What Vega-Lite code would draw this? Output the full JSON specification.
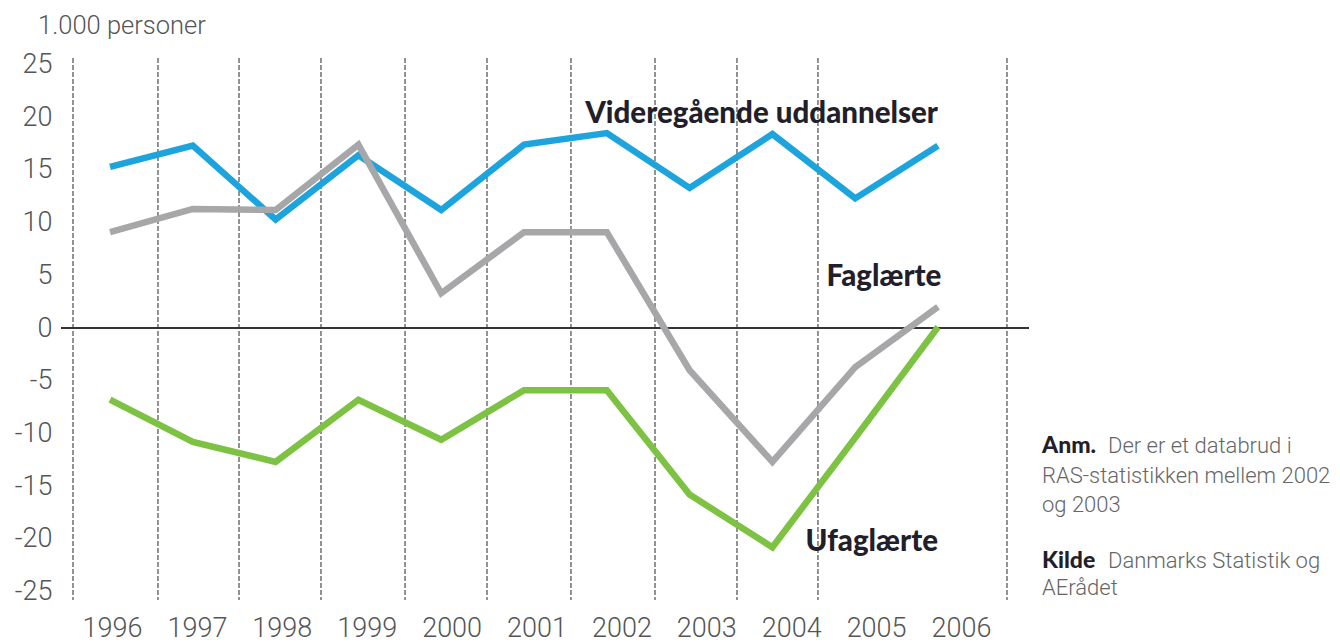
{
  "$schema": "https://vega.github.io/schema/vega-lite/v6.json",
  "width": 968,
  "height": 542,
  "autosize": {"type": "none"},
  "padding": {"left": 61, "top": 58, "right": 311, "bottom": 44},
  "background": "white",
  "config": {
    "view": {"stroke": null},
    "font": "Roboto",
    "axisY": {"grid": false, "ticks": false, "domain": false, "labelFontSize": 27, "labelFont": "Roboto", "labelFontWeight": 300, "labelColor": "#555555", "labelPadding": 9, "labelFlush": false, "labelOverlap": false}
  },
  "title": {"text": "1.000 personer", "anchor": "start", "frame": "group", "dx": -23, "offset": -9, "baseline": "alphabetic", "fontSize": 25.5, "font": "Roboto", "fontWeight": 300, "color": "#555555"},
  "datasets": {
    "series": [
      {"year": 1996, "value": 15.3, "series": "Videregående uddannelser"},
      {"year": 1997, "value": 17.3, "series": "Videregående uddannelser"},
      {"year": 1998, "value": 10.3, "series": "Videregående uddannelser"},
      {"year": 1999, "value": 16.4, "series": "Videregående uddannelser"},
      {"year": 2000, "value": 11.2, "series": "Videregående uddannelser"},
      {"year": 2001, "value": 17.4, "series": "Videregående uddannelser"},
      {"year": 2002, "value": 18.5, "series": "Videregående uddannelser"},
      {"year": 2003, "value": 13.3, "series": "Videregående uddannelser"},
      {"year": 2004, "value": 18.4, "series": "Videregående uddannelser"},
      {"year": 2005, "value": 12.3, "series": "Videregående uddannelser"},
      {"year": 2006, "value": 17.3, "series": "Videregående uddannelser"},
      {"year": 1996, "value": 9.1, "series": "Faglærte"},
      {"year": 1997, "value": 11.3, "series": "Faglærte"},
      {"year": 1998, "value": 11.2, "series": "Faglærte"},
      {"year": 1999, "value": 17.4, "series": "Faglærte"},
      {"year": 2000, "value": 3.3, "series": "Faglærte"},
      {"year": 2001, "value": 9.1, "series": "Faglærte"},
      {"year": 2002, "value": 9.1, "series": "Faglærte"},
      {"year": 2003, "value": -4.0, "series": "Faglærte"},
      {"year": 2004, "value": -12.7, "series": "Faglærte"},
      {"year": 2005, "value": -3.7, "series": "Faglærte"},
      {"year": 2006, "value": 2.0, "series": "Faglærte"},
      {"year": 1996, "value": -6.8, "series": "Ufaglærte"},
      {"year": 1997, "value": -10.8, "series": "Ufaglærte"},
      {"year": 1998, "value": -12.7, "series": "Ufaglærte"},
      {"year": 1999, "value": -6.8, "series": "Ufaglærte"},
      {"year": 2000, "value": -10.6, "series": "Ufaglærte"},
      {"year": 2001, "value": -5.9, "series": "Ufaglærte"},
      {"year": 2002, "value": -5.9, "series": "Ufaglærte"},
      {"year": 2003, "value": -15.8, "series": "Ufaglærte"},
      {"year": 2004, "value": -20.8, "series": "Ufaglærte"},
      {"year": 2005, "value": -10.4, "series": "Ufaglærte"},
      {"year": 2006, "value": 0.1, "series": "Ufaglærte"}
    ],
    "grid": [
      {"b": 1995.553}, {"b": 1996.579}, {"b": 1997.558}, {"b": 1998.548}, {"b": 1999.563},
      {"b": 2000.553}, {"b": 2001.567}, {"b": 2002.582}, {"b": 2003.572}, {"b": 2004.55}, {"b": 2006.833}
    ],
    "zero": [{"v": 0}],
    "labels": [
      {"text": "Videregående uddannelser", "x": 2006.0, "y": 19.45},
      {"text": "Faglærte", "x": 2006.04, "y": 4.0},
      {"text": "Ufaglærte", "x": 2006.0, "y": -21.15}
    ],
    "noteHeads": [
      {"text": "Anm.", "x": 2007.256, "y": -11.86},
      {"text": "Kilde", "x": 2007.256, "y": -22.77}
    ],
    "noteBodies": [
      {"text": "Der er et databrud i", "x": 2008.053, "y": -11.86},
      {"text": "RAS-statistikken mellem 2002", "x": 2007.256, "y": -14.71},
      {"text": "og 2003", "x": 2007.256, "y": -17.46},
      {"text": "Danmarks Statistik og", "x": 2008.053, "y": -22.77},
      {"text": "AErådet", "x": 2007.256, "y": -25.33}
    ]
  },
  "layer": [
    {
      "data": {"name": "series"},
      "mark": {"type": "point", "opacity": 0},
      "encoding": {
        "x": {"field": "year", "type": "quantitative", "scale": {"domain": [1995.399, 2006.801], "nice": false, "zero": false},
          "axis": {"values": [1996, 1997, 1998, 1999, 2000, 2001, 2002, 2003, 2004, 2005, 2006], "format": "d", "grid": false, "ticks": false, "domain": false, "title": null, "labelFontSize": 27, "labelFont": "Roboto", "labelFontWeight": 300, "labelColor": "#555555", "labelPadding": 15, "labelFlush": false, "labelOverlap": false}},
        "y": {"field": "value", "type": "quantitative", "scale": {"domain": [-25.8, 25.62], "nice": false, "zero": false},
          "axis": {"values": [-25, -20, -15, -10, -5, 0, 5, 10, 15, 20, 25], "labelExpr": "toString(datum.value)", "title": null}}
      }
    },
    {
      "layer": [
        {
          "data": {"name": "grid"},
          "mark": {"type": "rule", "color": "#6f6f6f", "strokeWidth": 1.5, "strokeDash": [5, 2]},
          "encoding": {"x": {"field": "b", "type": "quantitative", "scale": {"domain": [1995.408, 2007.099], "nice": false, "zero": false}, "axis": null}}
        },
        {
          "data": {"name": "zero"},
          "mark": {"type": "rule", "color": "#333333", "strokeWidth": 2},
          "encoding": {"y": {"field": "v", "type": "quantitative", "scale": {"domain": [-25.8, 25.62], "nice": false, "zero": false},
            "axis": {"values": [-25, -20, -15, -10, -5, 0, 5, 10, 15, 20, 25], "labelExpr": "toString(datum.value)", "title": null}}}
        },
        {
          "data": {"name": "series"},
          "mark": {"type": "line", "strokeWidth": 6.5, "strokeJoin": "miter"},
          "encoding": {
            "x": {"field": "year", "type": "quantitative", "scale": {"domain": [1995.408, 2007.099], "nice": false, "zero": false}, "axis": null},
            "y": {"field": "value", "type": "quantitative", "scale": {"domain": [-25.8, 25.62], "nice": false, "zero": false},
              "axis": {"values": [-25, -20, -15, -10, -5, 0, 5, 10, 15, 20, 25], "labelExpr": "toString(datum.value)", "title": null}},
            "color": {"field": "series", "type": "nominal", "scale": {"domain": ["Faglærte", "Ufaglærte", "Videregående uddannelser"], "range": ["#a7a7aa", "#7dc242", "#1ea4dc"]}, "legend": null}
          }
        },
        {
          "data": {"name": "labels"},
          "mark": {"type": "text", "align": "right", "baseline": "alphabetic", "font": "Lato", "fontWeight": 900, "fontSize": 29.5, "color": "#231f2a"},
          "encoding": {
            "x": {"field": "x", "type": "quantitative", "scale": {"domain": [1995.408, 2007.099], "nice": false, "zero": false}, "axis": null},
            "y": {"field": "y", "type": "quantitative", "scale": {"domain": [-25.8, 25.62], "nice": false, "zero": false},
              "axis": {"values": [-25, -20, -15, -10, -5, 0, 5, 10, 15, 20, 25], "labelExpr": "toString(datum.value)", "title": null}},
            "text": {"field": "text"}
          }
        },
        {
          "data": {"name": "noteHeads"},
          "mark": {"type": "text", "align": "left", "baseline": "alphabetic", "font": "Lato", "fontWeight": 900, "fontSize": 23, "color": "#231f2a"},
          "encoding": {
            "x": {"field": "x", "type": "quantitative", "scale": {"domain": [1995.408, 2007.099], "nice": false, "zero": false}, "axis": null},
            "y": {"field": "y", "type": "quantitative", "scale": {"domain": [-25.8, 25.62], "nice": false, "zero": false},
              "axis": {"values": [-25, -20, -15, -10, -5, 0, 5, 10, 15, 20, 25], "labelExpr": "toString(datum.value)", "title": null}},
            "text": {"field": "text"}
          }
        },
        {
          "data": {"name": "noteBodies"},
          "mark": {"type": "text", "align": "left", "baseline": "alphabetic", "font": "Roboto", "fontWeight": 300, "fontSize": 22, "color": "#666666"},
          "encoding": {
            "x": {"field": "x", "type": "quantitative", "scale": {"domain": [1995.408, 2007.099], "nice": false, "zero": false}, "axis": null},
            "y": {"field": "y", "type": "quantitative", "scale": {"domain": [-25.8, 25.62], "nice": false, "zero": false},
              "axis": {"values": [-25, -20, -15, -10, -5, 0, 5, 10, 15, 20, 25], "labelExpr": "toString(datum.value)", "title": null}},
            "text": {"field": "text"}
          }
        }
      ]
    }
  ],
  "resolve": {"scale": {"x": "independent"}}
}
